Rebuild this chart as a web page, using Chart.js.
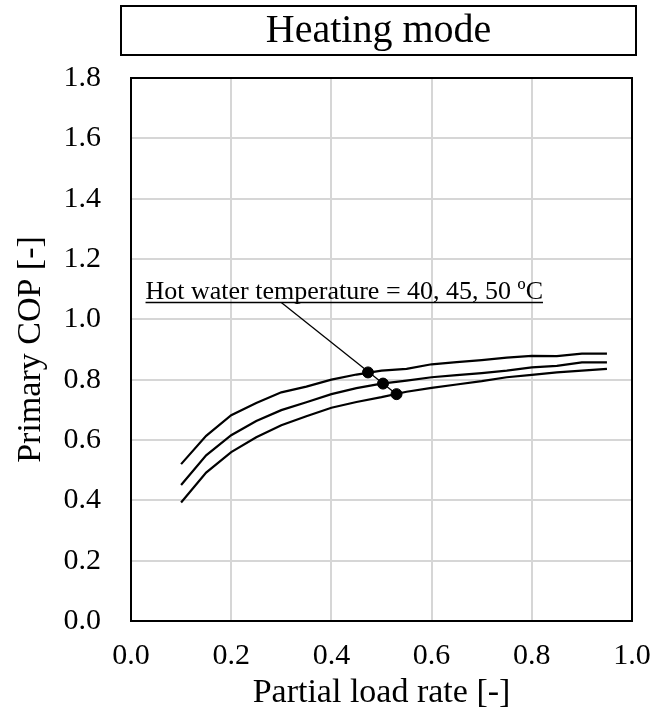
<!DOCTYPE html>
<html><head><meta charset="utf-8">
<script src="https://cdn.jsdelivr.net/npm/chart.js@4"></script>
<style>html,body{margin:0;padding:0;background:#fff}#wrap{width:668px;height:715px}</style>
</head><body><div id="wrap"><canvas id="c" width="668" height="715"></canvas></div>
<script>
// ---- data ----
const loadRate = [0.10,0.15,0.20,0.25,0.30,0.35,0.40,0.45,0.50,0.55,0.60,0.65,0.70,0.75,0.80,0.85,0.90,0.95];
const cop40 = [0.520,0.614,0.682,0.723,0.758,0.777,0.800,0.817,0.830,0.836,0.851,0.858,0.865,0.873,0.879,0.878,0.886,0.886];
const cop45 = [0.451,0.549,0.616,0.663,0.699,0.725,0.752,0.772,0.787,0.797,0.808,0.815,0.822,0.830,0.841,0.846,0.857,0.857];
const cop50 = [0.393,0.492,0.560,0.609,0.649,0.679,0.707,0.726,0.742,0.760,0.773,0.784,0.795,0.808,0.816,0.824,0.830,0.836];
const markerX = [0.473,0.503,0.530];
const markerY = [0.824,0.787,0.752];
const leaderStart = [0.300,1.056];
const annotText = "Hot water temperature = 40, 45, 50 \u00baC";
const annotPos = [0.029,1.068];
const xTicks = [0.0,0.2,0.4,0.6,0.8,1.0];
const yTicks = [0.0,0.2,0.4,0.6,0.8,1.0,1.2,1.4,1.6,1.8];
const titleText = "Heating mode";
const xTitle = "Partial load rate [-]";
const yTitle = "Primary COP [-]";

const FONT = '"Liberation Serif","Times New Roman",serif';
const toXY = (xs, ys) => xs.map((x,i)=>({x:x,y:ys[i]}));

const framePlugin = {
  id:'frame',
  afterDraw(chart){
    const {ctx, chartArea:a} = chart;
    ctx.save();
    ctx.strokeStyle='#000'; ctx.lineWidth=2;
    ctx.strokeRect(a.left, a.top, a.right-a.left, a.bottom-a.top);
    // title box
    const bx=121, by=6, bw=515, bh=49;
    ctx.strokeRect(bx,by,bw,bh);
    ctx.fillStyle='#000';
    ctx.font='40px '+FONT;
    ctx.textAlign='center'; ctx.textBaseline='middle';
    ctx.fillText(titleText, bx+bw/2, by+bh/2+1);
    // annotation text
    const xs=chart.scales.x, ys=chart.scales.y;
    ctx.font='26px '+FONT;
    ctx.textAlign='left'; ctx.textBaseline='alphabetic';
    const tx=xs.getPixelForValue(annotPos[0]), ty=ys.getPixelForValue(annotPos[1]);
    ctx.fillText(annotText, tx, ty);
    const w=ctx.measureText(annotText).width;
    ctx.lineWidth=1.5;
    const uy=ys.getPixelForValue(leaderStart[1]);
    ctx.beginPath(); ctx.moveTo(tx,uy); ctx.lineTo(tx+w,uy); ctx.stroke();
    ctx.restore();
  },
  beforeDatasetsDraw(chart){
    const {ctx} = chart;
    const xs=chart.scales.x, ys=chart.scales.y;
    ctx.save();
    ctx.strokeStyle='#000'; ctx.lineWidth=1.3;
    ctx.beginPath();
    ctx.moveTo(xs.getPixelForValue(leaderStart[0]), ys.getPixelForValue(leaderStart[1]));
    ctx.lineTo(xs.getPixelForValue(markerX[2]), ys.getPixelForValue(markerY[2]));
    ctx.stroke();
    ctx.restore();
  }
};

const lineDs = (label, data) => ({type:'line', label, data: toXY(loadRate, data), borderColor:'#000', borderWidth:2.2, pointRadius:0, fill:false, tension:0});

new Chart(document.getElementById('c'), {
  data:{datasets:[
    {type:'scatter', label:'markers', data: toXY(markerX, markerY), pointRadius:5.5, pointBackgroundColor:'#000', pointBorderColor:'#000', showLine:false},
    lineDs('40 ºC', cop40),
    lineDs('45 ºC', cop45),
    lineDs('50 ºC', cop50)
  ]},
  options:{
    responsive:false, animation:false, devicePixelRatio:1,
    layout:{padding:{top:78,right:36,left:0,bottom:0}},
    plugins:{legend:{display:false}, tooltip:{enabled:false}, title:{display:false}},
    scales:{
      x:{type:'linear', min:0, max:1,
        afterBuildTicks(s){ s.ticks = xTicks.map(v=>({value:v})); },
        afterFit(s){ s.height = 94; },
        grid:{color:'#d6d6d6', lineWidth:2, drawTicks:false},
        border:{display:false},
        ticks:{color:'#000', font:{family:FONT,size:30}, padding:17, maxRotation:0, callback:v=>v.toFixed(1)},
        title:{display:true, text:xTitle, color:'#000', font:{family:FONT,size:34}, padding:{top:0,bottom:2}}
      },
      y:{type:'linear', min:0, max:1.8,
        afterBuildTicks(s){ s.ticks = yTicks.map(v=>({value:v})); },
        afterFit(s){ s.width = 131; },
        grid:{color:'#d6d6d6', lineWidth:2, drawTicks:false},
        border:{display:false},
        ticks:{color:'#000', font:{family:FONT,size:30}, padding:30, callback:v=>v.toFixed(1)},
        title:{display:true, text:yTitle, color:'#000', font:{family:FONT,size:34}, padding:{top:11,bottom:0}}
      }
    }
  },
  plugins:[framePlugin]
});
</script></body></html>
